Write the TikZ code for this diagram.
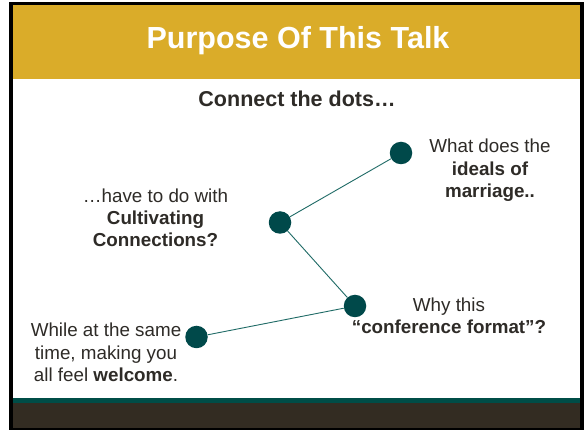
\documentclass[tikz,border=0pt]{standalone}
\usepackage{fontspec}
\setmainfont{Liberation Sans}
\definecolor{gold}{HTML}{DAAC29}
\definecolor{dotteal}{HTML}{00494A}
\definecolor{lineteal}{HTML}{1F6B66}
\definecolor{stripe}{HTML}{004D47}
\definecolor{footer}{HTML}{332C22}
\definecolor{txt}{HTML}{2E2B27}
\begin{document}
\begin{tikzpicture}[x=1pt,y=-1pt,
  dot/.style={circle,fill=dotteal,draw=none,minimum size=22.5pt,inner sep=0pt},
  link/.style={draw=lineteal,line width=0.9pt},
  body/.style={text=txt,inner sep=0pt,anchor=base,font=\fontsize{18.8}{22}\selectfont},
  headtxt/.style={text=white,inner sep=0pt,anchor=base,font=\fontsize{30.5}{36}\selectfont\bfseries},
  subtxt/.style={text=txt,inner sep=0pt,anchor=base,font=\fontsize{21.5}{25}\selectfont\bfseries}]
\useasboundingbox (0,0) rectangle (584,430);
\fill[white] (0,0) rectangle (584,430);
% frame
\fill[black] (9,2) rectangle (584,430);
\fill[white] (13,5) rectangle (580,428);
\fill[gold] (13,5) rectangle (580,79);
\fill[stripe] (13,398) rectangle (580,403);
\fill[footer] (13,403) rectangle (580,428);
% title
\node[headtxt] (title) at (298,49) {Purpose Of This Talk};
\node[subtxt] (sub) at (297,107) {Connect the dots…};
% dots
\node[dot] (d1) at (401,153) {};
\node[dot] (d2) at (280,222.5) {};
\node[dot] (d3) at (355,306) {};
\node[dot] (d4) at (196.5,337) {};
\draw[link] (d1) -- (d2);
\draw[link] (d2) -- (d3);
\draw[link] (d3) -- (d4);
% texts
\node[body] (a1) at (490,153) {What does the};
\node[body] (a2) at (490,175.5) {\bfseries ideals of};
\node[body] (a3) at (490,197.5) {\bfseries marriage..};
\node[body] (b1) at (155.5,203) {…have to do with};
\node[body] (b2) at (155.5,225) {\bfseries Cultivating};
\node[body] (b3) at (155.5,247) {\bfseries Connections?};
\node[body] (c1) at (449,312) {Why this};
\node[body] (c2) at (449,334) {\bfseries “conference format”?};
\node[body] (e1) at (106,337) {While at the same};
\node[body] (e2) at (106,360) {time, making you};
\node[body] (e3) at (106,382) {all feel \textbf{welcome}.};
\end{tikzpicture}
\end{document}
